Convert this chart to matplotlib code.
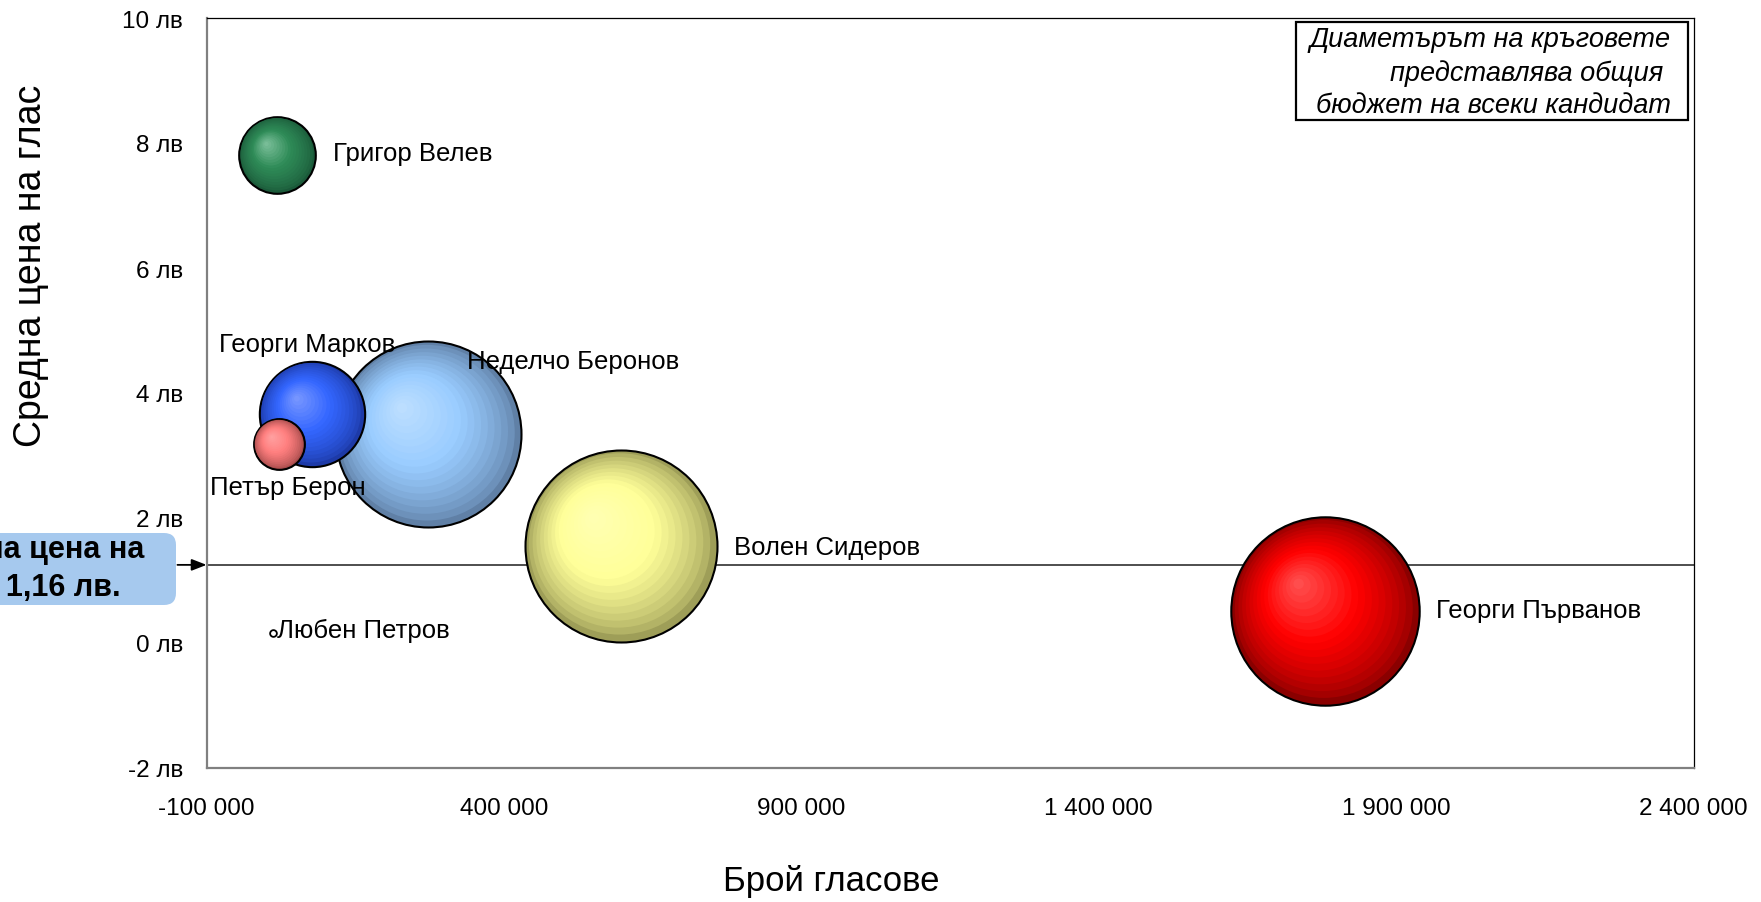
import numpy as np
import matplotlib
matplotlib.use("Agg")
import matplotlib.pyplot as plt
from matplotlib.colors import to_rgb
from matplotlib.patches import FancyBboxPatch, Rectangle
from matplotlib.transforms import ScaledTranslation, IdentityTransform
from matplotlib.ticker import FuncFormatter, FixedLocator, MultipleLocator

plt.rcParams['font.family'] = ['Liberation Sans', 'DejaVu Sans']

# ---------------------------------------------------------------------------
# data
# ---------------------------------------------------------------------------
candidates = ["Григор Велев", "Георги Марков", "Петър Берон", "Неделчо Беронов",
              "Волен Сидеров", "Георги Първанов", "Любен Петров"]
votes = [19000, 77000, 22000, 273000, 597000, 1781000, 11000]       # брой гласове
price = [7.81, 3.67, 3.18, 3.34, 1.56, 0.52, 0.16]                   # лв на глас
budget = [155000, 293000, 68000, 913000, 973000, 937000, 1200]      # общ бюджет, лв
avg_price_line = 1.25
avg_price_text = "1,16 лв."
x_ticks = [-100000, 400000, 900000, 1400000, 1900000, 2400000]

# colours: (rim, body, highlight)
colors = {
    "Григор Велев": ("#1b5a3a", "#2e8b57", "#80c29e"),
    "Георги Марков": ("#1d3aa8", "#3366ff", "#7d9aff"),
    "Петър Берон": ("#a64b4b", "#ff7f7f", "#ffa3a3"),
    "Неделчо Беронов": ("#6080a6", "#99ccff", "#c0e0ff"),
    "Волен Сидеров": ("#9e9e58", "#ffff99", "#ffffb4"),
    "Георги Първанов": ("#8a0000", "#ff0000", "#ff5555"),
    "Любен Петров": ("#ffffff", "#ffffff", "#ffffff"),
}

# label offsets from bubble centre, in points (layout only)
label_offsets = {
    "Григор Велев": (40, 1),
    "Георги Марков": (-67, 50),
    "Петър Берон": (-50, -31),
    "Неделчо Беронов": (28, 53),
    "Волен Сидеров": (81, -1),
    "Георги Първанов": (80, 0),
    "Любен Петров": (3, 2),
}

SIZE_SCALE = 0.01964   # scatter area (pt^2) per лв of budget
W, H = 1761, 903


def shade(rim, body, hi, m):
    """rim -> body -> highlight, m runs 0 (edge) .. 1 (centre)"""
    if m < 0.6:
        return rim + (body - rim) * (m / 0.6)
    return body + (hi - body) * ((m - 0.6) / 0.4)


fig = plt.figure(figsize=(W / 100, H / 100), dpi=100)
ax = fig.add_axes([206.6 / W, (H - 769) / H, 1486.9 / W, 750 / H])
ax.set_xlim(x_ticks[0], x_ticks[-1])
ax.set_ylim(-2, 10)

ax.xaxis.set_major_locator(FixedLocator(x_ticks))
ax.yaxis.set_major_locator(MultipleLocator(2))
ax.xaxis.set_major_formatter(FuncFormatter(lambda v, p: f"{int(v):,}".replace(",", " ")))
ax.yaxis.set_major_formatter(FuncFormatter(lambda v, p: f"{int(v)} лв"))
ax.tick_params(axis='both', length=0, labelsize=17.5)
ax.tick_params(axis='x', pad=21)
ax.tick_params(axis='y', pad=17)

for side in ("left", "bottom"):
    ax.spines[side].set_color("#808080")
    ax.spines[side].set_linewidth(1.6)
for side in ("top", "right"):
    ax.spines[side].set_color("black")
    ax.spines[side].set_linewidth(0.9)

# average price line
ax.axhline(avg_price_line, color="#404040", lw=1.3, zorder=1)

# bubbles, largest first so small ones sit on top
order = np.argsort(budget)[::-1]
n_layers = 18
for z, i in enumerate(order):
    name = candidates[i]
    s = budget[i] * SIZE_SCALE
    r_in = np.sqrt(s) / 2 / 72          # radius in inches
    rim, body, hi = (np.array(to_rgb(c)) for c in colors[name])
    base_z = 3 + z * 0.05
    if name == "Любен Петров":
        ax.scatter(votes[i], price[i], s=s, facecolor="white", edgecolor="black",
                   linewidth=1.3, zorder=base_z)
        continue
    for k in range(n_layers):
        t = 1 - k / n_layers               # radius fraction
        m = (1 - t) ** 0.7
        col = np.clip(shade(rim, body, hi, m), 0, 1)
        dx, dy = -0.3 * r_in * (1 - t), 0.3 * r_in * (1 - t)
        tr = ax.transData + ScaledTranslation(dx, dy, fig.dpi_scale_trans)
        ax.scatter(votes[i], price[i], s=s * t * t, color=col,
                   edgecolor="black" if k == 0 else "none",
                   linewidth=1.5 if k == 0 else 0,
                   transform=tr, zorder=base_z + k * 0.001)

# bubble labels
for i, name in enumerate(candidates):
    ax.annotate(name, (votes[i], price[i]), xytext=label_offsets[name],
                textcoords="offset points", ha="left", va="center",
                fontsize=18.5, zorder=10)

# axis titles
fig.text(831.7 / W, 1 - 881.7 / H, "Брой гласове", ha="center", va="center", fontsize=25)
fig.text(31 / W, 1 - 266 / H, "Средна цена на глас", rotation=90, ha="center",
         va="center", fontsize=27)

# note box (top right)
fig.patches.append(Rectangle((1296, H - 121), 392, 98, transform=IdentityTransform(),
                             facecolor="white", edgecolor="black", lw=1.6, zorder=5))
fig.text(1671 / W, 1 - 73 / H,
         "Диаметърът на кръговете\nпредставлява общия \nбюджет на всеки кандидат",
         ha="right", va="center", multialignment="right", style="italic",
         fontsize=19.5, linespacing=1.3, zorder=6)

# average price call-out on the left
fig.patches.append(FancyBboxPatch((-160, H - 606), 336, 72, transform=IdentityTransform(),
                                  boxstyle="round,pad=0,rounding_size=12",
                                  facecolor="#a6c9ee", edgecolor="none", zorder=5))
fig.text(26 / W, 1 - 569 / H, "Средна цена на\nглас " + avg_price_text,
         ha="center", va="center", multialignment="center", fontweight="bold",
         fontsize=22, linespacing=1.35, zorder=6)
ax.annotate("", xy=(x_ticks[0], avg_price_line), xytext=(-21, 0), textcoords="offset points",
            arrowprops=dict(arrowstyle="-|>,head_length=0.9,head_width=0.35",
                            color="black", lw=1.3, shrinkA=0, shrinkB=0),
            annotation_clip=False)

fig.savefig("out.png", dpi=100)
